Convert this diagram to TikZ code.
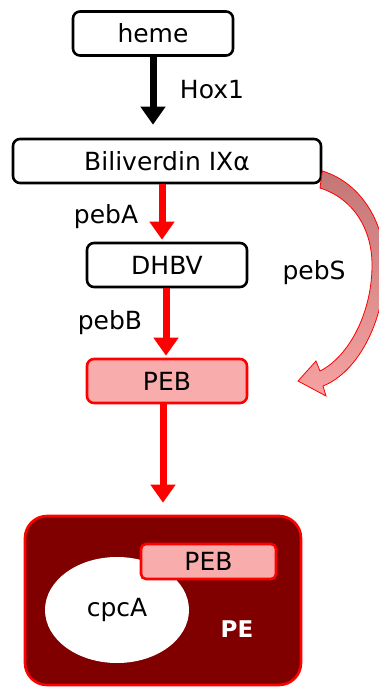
\documentclass[tikz,border=0pt]{standalone}
\usepackage{fontspec}
\setmainfont{DejaVu Sans}
\usetikzlibrary{arrows.meta,shapes.geometric}

\definecolor{pebpink}{RGB}{248,172,172}
\definecolor{pedark}{RGB}{128,0,0}
\definecolor{pebsgray}{RGB}{196,118,118}
\definecolor{pebslight}{RGB}{246,162,162}

\tikzset{
  box/.style={draw, line width=2.6pt, rounded corners=7pt, fill=white,
    minimum height=44pt, inner sep=0pt, font=\fontsize{25}{28}\selectfont},
  pebbox/.style={box, draw=red, fill=pebpink},
  lbl/.style={font=\fontsize{25}{28}\selectfont},
  blkarr/.style={line width=7pt, -{Triangle[width=24pt,length=18pt]}},
  redarr/.style={blkarr, draw=red, color=red},
}

\begin{document}
\begin{tikzpicture}[x=1pt,y=-1pt]
  \useasboundingbox (0,0) rectangle (379,688);

  % pathway boxes
  \node[box, minimum width=160pt] (heme) at (153,33.5) {heme};
  \node[box, minimum width=308pt] (bili) at (167,161) {Biliverdin IXα};
  \node[box, minimum width=160pt] (dhbv) at (167,265) {DHBV};
  \node[pebbox, minimum width=160pt] (peb) at (167,381) {PEB};

  % phycoerythrin
  \node[draw=red, fill=pedark, line width=2.6pt, rounded corners=22pt,
    minimum width=276pt, minimum height=169pt] (pe) at (163,600.5) {};
  \node[ellipse, fill=white, minimum width=144pt, minimum height=106pt,
    inner sep=0pt, font=\fontsize{25}{28}\selectfont] (cpca) at (117,610) {cpcA};
  \node[pebbox, rounded corners=5pt, minimum width=135pt, minimum height=35pt] (pebin) at (208.5,561.5) {PEB};
  \node[font=\fontsize{23}{26}\selectfont\bfseries, text=white] (pelbl) at (237,629) {PE};

  % steps
  \draw[blkarr, shorten >=13pt] (heme.south) -- (heme.south |- bili.north);
  \draw[redarr, shorten >=2pt] ([xshift=-5pt]bili.south) -- ([xshift=-5pt]bili.south |- dhbv.north);
  \draw[redarr, shorten >=2pt] ([xshift=-1pt]dhbv.south) -- ([xshift=-1pt]dhbv.south |- peb.north);
  \draw[redarr, shorten >=12pt] ([xshift=-4pt]peb.south) -- ([xshift=-4pt]peb.south |- pe.north);

  % pebS bypass
  \draw[red, line width=0.8pt, top color=pebsgray, bottom color=pebslight]
    (bili.north east |- 0,171) .. controls (362,183) and (386,225) .. (385,268)
    .. controls (384,322) and (358,372) .. (323,386) -- (326,396) -- (298,381)
    -- (316,361) -- (320,371) .. controls (348,357) and (371,315) .. (372,268)
    .. controls (373,228) and (352,198) .. (320,188) -- cycle;

  % enzyme labels
  \node[lbl] (hox) at (212,90) {Hox1};
  \node[lbl] (peba) at (106,217) {pebA};
  \node[lbl] (pebb) at (110,323) {pebB};
  \node[lbl] (pebs) at (314,273) {pebS};
\end{tikzpicture}
\end{document}
